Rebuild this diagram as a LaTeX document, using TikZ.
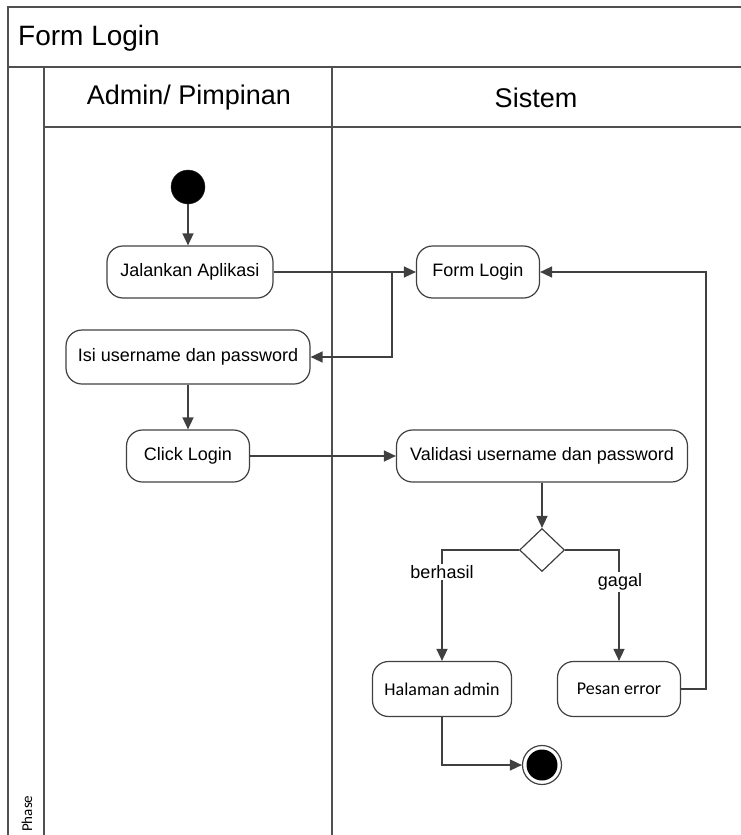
\documentclass[tikz,border=0pt]{standalone}
\usepackage{fontspec}
\setmainfont{Liberation Sans}
\newfontfamily\calibri{Carlito}
\usetikzlibrary{arrows.meta,shapes.geometric}

\tikzset{
    lane/.style={draw={rgb,255:red,80;green,80;blue,80}, line width=1.5pt},
    act/.style={draw={rgb,255:red,64;green,64;blue,64}, line width=1.2pt, rounded corners=16pt, align=center, inner sep=0pt, font=\fontsize{18}{21}\selectfont},
    flow/.style={draw={rgb,255:red,64;green,64;blue,64}, line width=1.5pt, -{Triangle[length=12pt,width=11pt]}},
    guard/.style={fill=white, inner sep=1.5pt, font=\fontsize{18}{21}\selectfont}
}

\begin{document}
\begin{tikzpicture}[x=1pt,y=1pt,yscale=-1,xscale=1]
    \useasboundingbox (0,0) rectangle (741,835);

    %Shape: Swimlane frame
    \draw [lane] (8,900) -- (8,7) -- (760,7) ;
    \draw [lane] (8,67) -- (760,67) ;
    \draw [lane] (44,127) -- (760,127) ;
    \draw [lane] (44,67) -- (44,900) ;
    \draw [lane] (332,67) -- (332,900) ;

    % Text Node
    \node (title) [anchor=west, inner sep=0pt, font=\fontsize{28}{32}\selectfont] at (18,38) {Form Login};
    % Text Node
    \node (admin) [font=\fontsize{27}{31}\selectfont] at (189,98) {Admin/ Pimpinan};
    % Text Node
    \node (sistem) [font=\fontsize{27}{31}\selectfont] at (536,98) {Sistem};
    % Text Node
    \node (phase) [rotate=90, anchor=west, inner sep=0pt, font=\calibri\fontsize{15}{17}\selectfont] at (27,832) {Phase};

    %Shape: Circle (start)
    \node (start) [circle, fill=black, draw={rgb,255:red,40;green,40;blue,40}, minimum size=34pt, inner sep=0pt] at (188,187) {};
    %Shape: Activities
    \node (jalankan) [act, minimum width=166pt, minimum height=52pt] at (190,272) {Jalankan Aplikasi};
    \node (isi) [act, minimum width=244pt, minimum height=54pt] at (188,357) {Isi username dan password};
    \node (click) [act, minimum width=123pt, minimum height=52pt] at (188,456) {Click Login};
    \node (formlogin) [act, minimum width=123pt, minimum height=52pt] at (478,272) {Form Login};
    \node (validasi) [act, minimum width=291pt, minimum height=52pt] at (542,456) {Validasi username dan password};
    %Shape: Diamond
    \node (cek) [diamond, draw={rgb,255:red,64;green,64;blue,64}, line width=1.2pt, minimum width=45pt, minimum height=43pt, inner sep=0pt] at (542,550) {};
    \node (halaman) [act, font=\calibri\fontsize{18}{21}\selectfont, minimum width=139pt, minimum height=55pt] at (442,689) {Halaman admin};
    \node (pesan) [act, font=\calibri\fontsize{18}{21}\selectfont, minimum width=123pt, minimum height=55pt] at (619,689) {Pesan error};
    %Shape: Circle (end)
    \node (stop) [circle, draw={rgb,255:red,64;green,64;blue,64}, line width=1.2pt, minimum size=39pt, inner sep=0pt] at (542,765) {};
    \node (stopdot) [circle, fill=black, minimum size=31pt, inner sep=0pt] at (stop) {};

    \coordinate (split) at (392,272);

    %Straight Lines
    \draw [flow] (start) -- (start |- jalankan.north);
    \draw [flow] (jalankan) -- (formlogin);
    \draw [flow] (split) |- (isi.east);
    \draw [flow] (isi) -- (click);
    \draw [flow] (click) -- (validasi);
    \draw [flow] (validasi) -- (cek);
    \draw [flow] (cek.west) -| (halaman.north);
    \draw [flow] (cek.east) -| (pesan.north);
    \draw [flow] (pesan.east) -- ++(25,0) |- (formlogin.east);
    \draw [flow] (halaman.south) |- (stop.west);

    % Text Node
    \node (berhasil) [guard] at (442,572) {berhasil};
    % Text Node
    \node (gagal) [guard] at (620,582) {gagal};

\end{tikzpicture}
\end{document}
